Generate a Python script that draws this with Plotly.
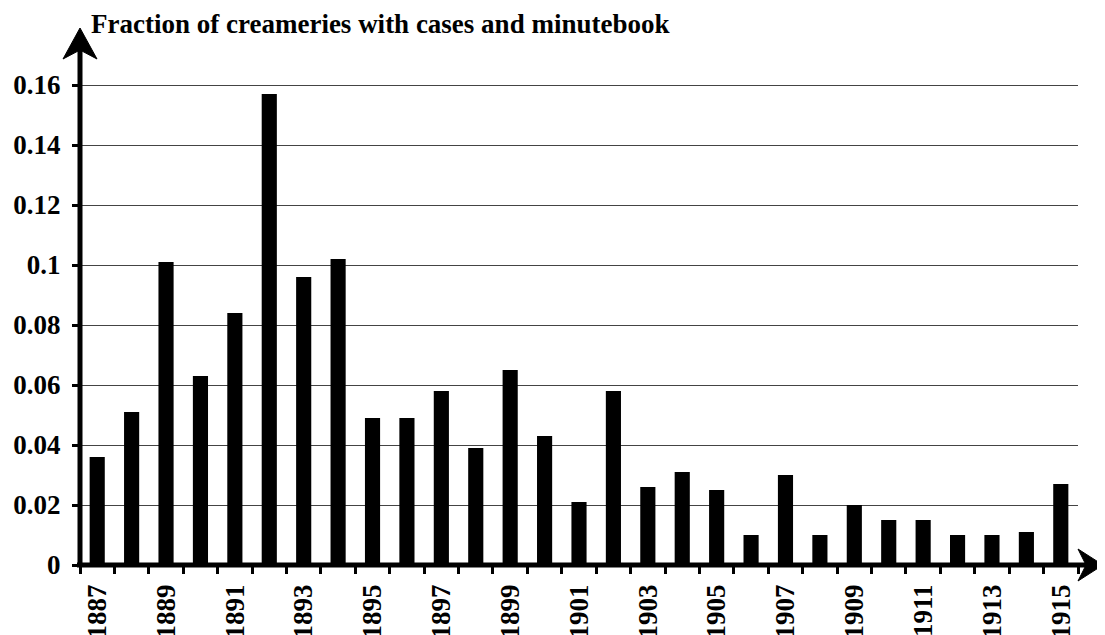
import plotly.graph_objects as go

years = ["1887", "1888", "1889", "1890", "1891", "1892", "1893", "1894", "1895", "1896",
         "1897", "1898", "1899", "1900", "1901", "1902", "1903", "1904", "1905", "1906",
         "1907", "1908", "1909", "1910", "1911", "1912", "1913", "1914", "1915"]
fraction = [0.036, 0.051, 0.101, 0.063, 0.084, 0.157, 0.096, 0.102, 0.049, 0.049,
            0.058, 0.039, 0.065, 0.043, 0.021, 0.058, 0.026, 0.031, 0.025, 0.010,
            0.030, 0.010, 0.020, 0.015, 0.015, 0.010, 0.010, 0.011, 0.027]
x_tick_labels = ["1887", "", "1889", "", "1891", "", "1893", "", "1895", "",
                 "1897", "", "1899", "", "1901", "", "1903", "", "1905", "",
                 "1907", "", "1909", "", "1911", "", "1913", "", "1915"]
y_tick_values = [0, 0.02, 0.04, 0.06, 0.08, 0.10, 0.12, 0.14, 0.16]
y_tick_labels = ["0", "0.02", "0.04", "0.06", "0.08", "0.1", "0.12", "0.14", "0.16"]
title_text = "Fraction of creameries with cases and minutebook"

FONT = "Liberation Serif"
BOLD = dict(family=FONT, size=27, color="black", weight="bold")

fig = go.Figure()
fig.add_trace(go.Bar(x=years, y=fraction, marker=dict(color="#000000", line=dict(width=0))))

# the page body adds an 8px offset, so the figure is sized to fit the window
fig.update_layout(
    width=1097, height=627,
    margin=dict(l=72, r=27, t=47, b=70),
    plot_bgcolor="white", paper_bgcolor="white",
    showlegend=False,
    bargap=0.56,
    font=dict(family=FONT, size=27, color="black"),
)

fig.update_xaxes(
    type="category", automargin=False,
    tickvals=years, ticktext=x_tick_labels,
    tickangle=-90,
    tickson="boundaries",
    ticks="outside", ticklen=8, tickwidth=3, tickcolor="black",
    showline=False,
    showgrid=False,
    ticklabelstandoff=13,
    tickfont=BOLD,
)
fig.update_yaxes(
    range=[0, 0.17], automargin=False,
    tickvals=y_tick_values, ticktext=y_tick_labels,
    ticks="outside", ticklen=7, tickwidth=3, tickcolor="black",
    showline=False,
    showgrid=True, gridcolor="#444444", gridwidth=1,
    zeroline=False,
    ticklabelstandoff=6,
    tickfont=BOLD,
)

# axis shafts
fig.add_shape(type="line", xref="paper", yref="paper", x0=0, x1=0,
              ysizemode="pixel", yanchor=0, y0=-2, y1=518,
              line=dict(color="black", width=5), layer="above")
fig.add_shape(type="line", xref="paper", yref="paper", y0=0, y1=0,
              xsizemode="pixel", xanchor=0, x0=-3, x1=1008,
              line=dict(color="black", width=5), layer="above")
# arrowheads
fig.add_shape(type="path", xref="paper", yref="paper",
              xsizemode="pixel", ysizemode="pixel", xanchor=0, yanchor=1,
              path="M0,27 L-17,-4 L0,5 L17,-4 Z",
              fillcolor="black", line=dict(color="black", width=1), layer="above")
fig.add_shape(type="path", xref="paper", yref="paper",
              xsizemode="pixel", ysizemode="pixel", xanchor=1, yanchor=0,
              path="M25,0 L0,16 L8,0 L0,-16 Z",
              fillcolor="black", line=dict(color="black", width=1), layer="above")

fig.add_annotation(x=0.009, y=1.061, xref="paper", yref="paper", xanchor="left", yanchor="middle",
                   text=title_text, showarrow=False, font=BOLD)

fig.write_html("out.html")
